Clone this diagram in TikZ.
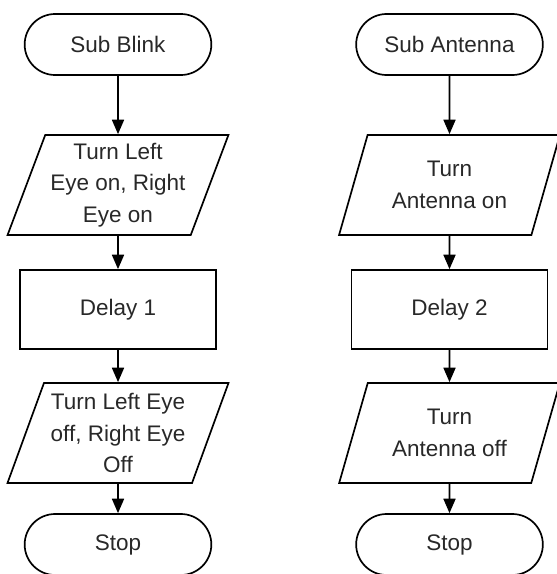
\documentclass[tikz,border=0pt]{standalone}
\usepackage{fontspec}
\setmainfont{Liberation Sans}
\usetikzlibrary{shapes.geometric,shapes.misc,arrows.meta,positioning}
\definecolor{flowtext}{RGB}{40,40,40}

\begin{document}
\begin{tikzpicture}[x=0.025cm, y=-0.025cm,
    every node/.style={line width=1.2pt, text=flowtext, font=\fontsize{16}{22.5}\selectfont},
    terminal/.style={draw, rounded rectangle, minimum width=4.9cm, minimum height=1.525cm},
    process/.style={draw, rectangle, minimum width=4.9cm, minimum height=1.975cm},
    io/.style={draw, trapezium, trapezium left angle=67.7, trapezium right angle=112.3,
        trapezium stretches=true, minimum width=5.525cm, minimum height=2.5cm,
        align=center, inner sep=1pt},
    flow/.style={-{Triangle[length=0.36cm,width=0.3cm]}, line width=1.2pt}]
    \clip (0,0) rectangle (557,574);

    % Sub Blink
    \node[terminal] (blink) at (118,44.5) {Sub Blink};
    \node[io] (eyeson) at (118,185) {Turn Left\\Eye on, Right\\Eye on};
    \node[process] (delay1) at (118,309.5) {Delay 1};
    \node[io] (eyesoff) at (118,433) {Turn Left Eye\\off, Right Eye\\Off};
    \node[terminal] (stop1) at (118,544.5) {Stop};

    \draw[flow] (blink) -- (eyeson);
    \draw[flow] (eyeson) -- (delay1);
    \draw[flow] (delay1) -- (eyesoff);
    \draw[flow] (eyesoff) -- (stop1);

    % Sub Antenna
    \node[terminal] (antenna) at (449.5,44.5) {Sub Antenna};
    \node[io] (anton) at (449.5,185) {Turn\\Antenna on};
    \node[process] (delay2) at (449.5,309.5) {Delay 2};
    \node[io] (antoff) at (449.5,433) {Turn\\Antenna off};
    \node[terminal] (stop2) at (449.5,544.5) {Stop};

    \draw[flow] (antenna) -- (anton);
    \draw[flow] (anton) -- (delay2);
    \draw[flow] (delay2) -- (antoff);
    \draw[flow] (antoff) -- (stop2);
\end{tikzpicture}
\end{document}
